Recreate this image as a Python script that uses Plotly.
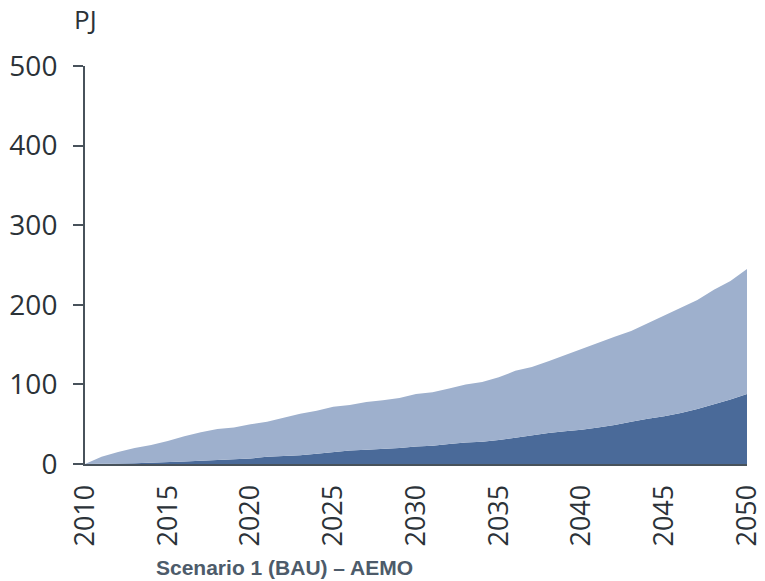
import plotly.graph_objects as go

years = list(range(2010, 2051))
dark_series = [0, 0, 0.5, 1, 1.5, 2, 3, 4, 5, 6, 7, 9, 10, 11, 13, 15, 17, 18, 19, 20,
               22, 23, 25, 27, 28, 30, 33, 36, 39, 41, 43, 46, 49, 53, 57, 60, 64, 69, 75, 81, 88]
light_series = [0, 9, 14.5, 19, 22.5, 27, 32, 36, 39, 40, 43, 44, 48, 52, 54, 57, 57, 60, 61, 63,
                66, 67, 70, 73, 75, 79, 84, 86, 90, 96, 101, 106, 111, 114, 120, 127, 132, 137, 144, 149, 157]
x_ticks = list(range(2010, 2051, 5))
y_ticks = [0, 100, 200, 300, 400, 500]

axis_color = "#48525b"
fig = go.Figure()
fig.add_trace(go.Scatter(x=years, y=dark_series, stackgroup="s", mode="lines",
                         line=dict(width=0, color="#4a6a99"), fillcolor="#4a6a99"))
fig.add_trace(go.Scatter(x=years, y=light_series, stackgroup="s", mode="lines",
                         line=dict(width=0, color="#9eb0cd"), fillcolor="#9eb0cd"))

fig.update_layout(
    width=765, height=581,
    margin=dict(l=85, r=18, t=66, b=117, autoexpand=False),
    paper_bgcolor="white", plot_bgcolor="white",
    showlegend=False,
    font=dict(family="Open Sans", size=28, color="#2b3238"),
    xaxis=dict(range=[2010, 2050], tickvals=x_ticks, ticktext=[str(v) for v in x_ticks],
               tickangle=-90, showgrid=False, zeroline=False, showline=True,
               linecolor=axis_color, linewidth=2, ticks="", ticklabelstandoff=8,
               automargin=False, ticklabeloverflow="allow", tickfont=dict(size=27)),
    yaxis=dict(range=[0, 500], tickvals=y_ticks, showgrid=False, zeroline=False,
               showline=True, linecolor=axis_color, linewidth=2, ticks="outside",
               ticklen=10, tickwidth=2, tickcolor=axis_color, ticklabelstandoff=10,
               automargin=False, ticklabeloverflow="allow"),
    annotations=[
        dict(text="PJ", xref="paper", yref="paper", x=0.0, y=1.0, yshift=47,
             xanchor="center", yanchor="middle", showarrow=False,
             font=dict(family="Open Sans", size=26, color="#2b3238")),
        dict(text="<b>Scenario 1 (BAU) – AEMO</b>", xref="paper", yref="paper",
             x=(284 - 85) / 662, y=0, yshift=-103, xanchor="center", yanchor="middle",
             showarrow=False, font=dict(family="Liberation Sans", size=21, color="#4d5b6a")),
    ],
)
fig.write_html("out.html")
